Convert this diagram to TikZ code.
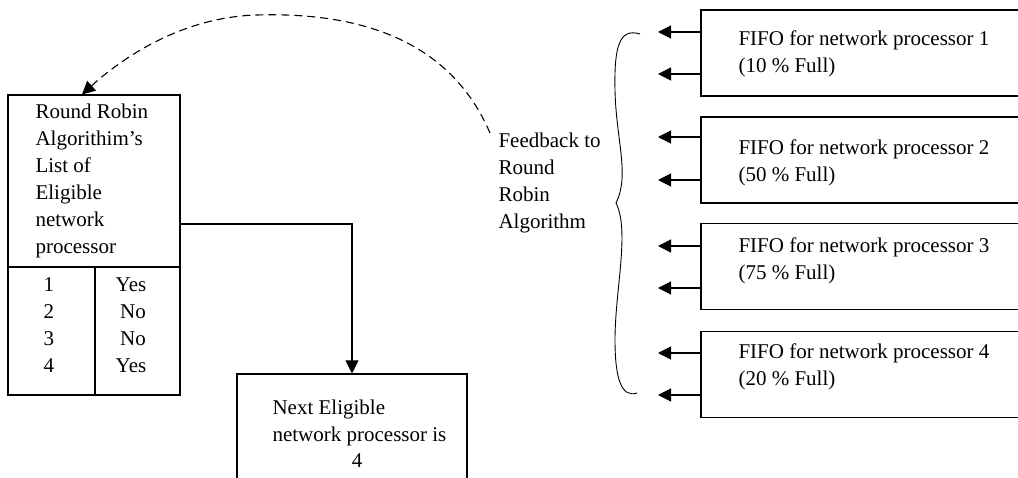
\documentclass[tikz,border=0pt]{standalone}
\usepackage{fontspec}
\setmainfont{Liberation Serif}
\usetikzlibrary{arrows.meta}
\begin{document}
\begin{tikzpicture}[x=1pt,y=-1pt,
  line width=1.1pt,
  box/.style={draw,line width=1.1pt,inner sep=0pt,minimum width=#1},
  txt/.style={anchor=base west,inner sep=0pt,font=\fontsize{21}{27}\selectfont},
  ctxt/.style={anchor=base,inner sep=0pt,font=\fontsize{21}{27}\selectfont},
  arr/.style={-{Triangle[length=13pt,width=13pt]}},
  dsh/.style={dash pattern=on 8pt off 5pt}]
\useasboundingbox (0,0) rectangle (1018,478);
% left box
\node[box=172pt,minimum height=300pt] (rr) at (94,245) {};
\draw (rr.west |- 0,267) coordinate (rrdl) -- (rr.east |- 0,267) coordinate (rrdr);
\draw (95,267) coordinate (vtop) -- (vtop |- rr.south);
\node[txt] (t1) at (35,119) {Round Robin};
\node[txt] (t2) at (35,146) {Algorithim’s};
\node[txt] (t3) at (35,173) {List of};
\node[txt] (t4) at (35,200) {Eligible};
\node[txt] (t5) at (35,227) {network};
\node[txt] (t6) at (35,254) {processor};
\node[txt] (n1) at (43,292) {1};
\node[txt] (n2) at (43,319) {2};
\node[txt] (n3) at (43,346) {3};
\node[txt] (n4) at (43,373) {4};
\node[ctxt] (y1) at (131,292) {Yes};
\node[ctxt] (y2) at (133,319) {No};
\node[ctxt] (y3) at (133,346) {No};
\node[ctxt] (y4) at (131,373) {Yes};
% next box
\node[box=230pt,minimum height=150pt] (nx) at (352,449) {};
\node[txt] (x1) at (272,414) {Next Eligible};
\node[txt] (x2) at (272,441) {network processor is};
\node[ctxt] (x3) at (357,467) {4};
\draw[arr] ([yshift=21pt]rr.east) -| (nx.north);
% FIFO boxes
\node[box=330pt,minimum height=86pt] (f1) at (866,53) {};
\node[box=330pt,minimum height=86pt] (f2) at (866,160) {};
\node[box=330pt,minimum height=86pt] (f3) at (866,266.5) {};
\node[box=330pt,minimum height=86pt] (f4) at (866,374.5) {};
\node[txt] (l1a) at (738,46) {FIFO for network processor 1};
\node[txt] (l1b) at (738,73) {(10 \% Full)};
\node[txt] (l2a) at (738,155) {FIFO for network processor 2};
\node[txt] (l2b) at (738,182) {(50 \% Full)};
\node[txt] (l3a) at (738,253) {FIFO for network processor 3};
\node[txt] (l3b) at (738,280) {(75 \% Full)};
\node[txt] (l4a) at (738,359) {FIFO for network processor 4};
\node[txt] (l4b) at (738,386) {(20 \% Full)};
\coordinate (a1) at (658,32);
\coordinate (a2) at (658,74);
\coordinate (a3) at (658,137);
\coordinate (a4) at (658,180);
\coordinate (a5) at (658,246);
\coordinate (a6) at (658,288);
\coordinate (a7) at (658,353);
\coordinate (a8) at (658,395);
\draw[arr] (f1.west |- a1) -- (a1);
\draw[arr] (f1.west |- a2) -- (a2);
\draw[arr] (f2.west |- a3) -- (a3);
\draw[arr] (f2.west |- a4) -- (a4);
\draw[arr] (f3.west |- a5) -- (a5);
\draw[arr] (f3.west |- a6) -- (a6);
\draw[arr] (f4.west |- a7) -- (a7);
\draw[arr] (f4.west |- a8) -- (a8);
% brace
\draw[line width=0.9pt] (640,34) .. controls (620,28) and (614,45) .. (615,90)
  .. controls (616,140) and (630,175) .. (616,203)
  .. controls (630,231) and (615,290) .. (615,340)
  .. controls (615,380) and (622,398) .. (637,393);
% feedback text
\node[txt] (fb1) at (498,148) {Feedback to};
\node[txt] (fb2) at (498,175) {Round};
\node[txt] (fb3) at (498,202) {Robin};
\node[txt] (fb4) at (498,229) {Algorithm};
\coordinate (fbs) at (490,133);
\coordinate (peak) at (257,15);
\draw[arr,dsh] (fbs) .. controls (450,40) and (360,12) .. (peak)
  .. controls (180,17) and (120,60) .. ([xshift=-12pt]rr.north);
\end{tikzpicture}
\end{document}
